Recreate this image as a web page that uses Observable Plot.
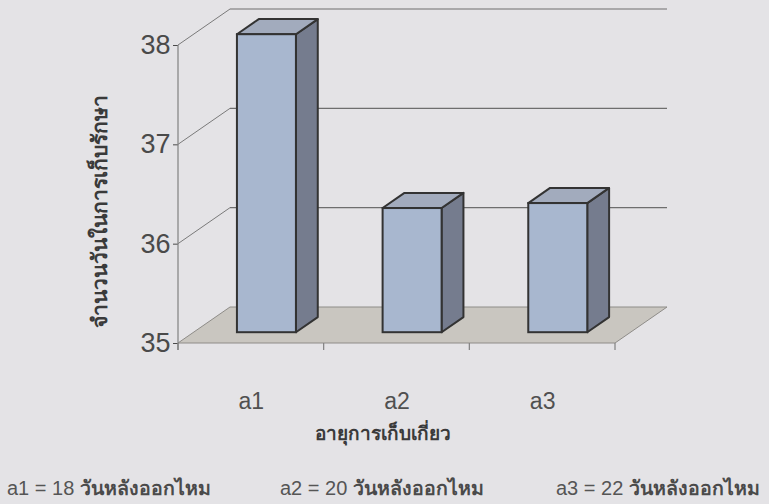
<!DOCTYPE html>
<html><head><meta charset="utf-8">
<script src="https://cdn.jsdelivr.net/npm/d3@7"></script>
<script src="https://cdn.jsdelivr.net/npm/@observablehq/plot@0.6"></script>
<style>
html,body{margin:0;padding:0;background:#e4e3e6;}
#wrap{position:relative;width:769px;height:504px;overflow:hidden;font-family:"Liberation Sans",Arial,sans-serif;}
#wrap svg{position:absolute;left:0;top:0;}
.cap{position:absolute;top:473px;font-size:20px;color:#555;white-space:nowrap}
.cap b{font-weight:bold;color:#4a4a4a;font-size:19.5px}
</style></head><body><div id="wrap"></div>
<script>
// ---- data ----
const categories = ["a1", "a2", "a3"];
const values = [38.0, 36.25, 36.3];
const yTicks = [35, 36, 37, 38];
const yBase = 35;
const xTitle = "อายุการเก็บเกี่ยว";
const yTitle = "จำนวนวันในการเก็บรักษา";
const captionCodes = ["a1 = 18", "a2 = 20", "a3 = 22"];
const captionText = "วันหลังออกไหม";

// ---- 3D look (pixels) ----
const DX = 52, DY = -36;          // full depth of the floor
const F0 = 0.3, F1 = 0.72;        // bar front/back depth fractions
const HALF = 0.2025;              // half bar width (band units)

const data = categories.map((c, i) => ({cat: c, i, value: values[i]}));

function scene(index, scales) {
  const {x, y} = scales;
  const g = d3.create("svg:g");
  const x0 = x(0), x3 = x(categories.length), yb = y(yBase);
  for (const t of yTicks) {
    if (t === yBase) continue;
    const py = y(t);
    g.append("line").attr("x1", x0).attr("y1", py).attr("x2", x0 + DX).attr("y2", py + DY)
      .attr("stroke", "#7a7a7a").attr("stroke-width", 1);
    g.append("line").attr("x1", x0 + DX).attr("y1", py + DY).attr("x2", x3 + DX).attr("y2", py + DY)
      .attr("stroke", "#6e6e6e").attr("stroke-width", 1.2);
  }
  g.append("path")
    .attr("d", `M${x0},${yb}L${x3},${yb}L${x3 + DX},${yb + DY}L${x0 + DX},${yb + DY}Z`)
    .attr("fill", "#c9c6c0").attr("stroke", "#8e8c88").attr("stroke-width", 1);
  g.append("line").attr("x1", x0).attr("x2", x0).attr("y1", y(d3.max(yTicks))).attr("y2", yb + 7)
    .attr("stroke", "#808080").attr("stroke-width", 1.2);
  for (let k = 0; k <= categories.length; k++) {
    g.append("line").attr("x1", x(k)).attr("x2", x(k)).attr("y1", yb).attr("y2", yb + 7)
      .attr("stroke", "#808080").attr("stroke-width", 1.2);
  }
  const fx0 = DX * F0, fy0 = DY * F0, fx1 = DX * F1, fy1 = DY * F1;
  for (const d of data) {
    const xl = x(d.i + 0.5 - HALF), xr = x(d.i + 0.5 + HALF), yv = y(d.value);
    g.append("path")
      .attr("d", `M${xr + fx0},${yv + fy0}L${xr + fx1},${yv + fy1}L${xr + fx1},${yb + fy1}L${xr + fx0},${yb + fy0}Z`)
      .attr("fill", "#757c8e").attr("stroke", "#333").attr("stroke-width", 2).attr("stroke-linejoin", "round");
    g.append("path")
      .attr("d", `M${xl + fx0},${yv + fy0}L${xr + fx0},${yv + fy0}L${xr + fx1},${yv + fy1}L${xl + fx1},${yv + fy1}Z`)
      .attr("fill", "#a2abbd").attr("stroke", "#333").attr("stroke-width", 2).attr("stroke-linejoin", "round");
    g.append("rect")
      .attr("x", xl + fx0).attr("y", yv + fy0).attr("width", xr - xl).attr("height", yb - yv)
      .attr("fill", "#a8b7cf").attr("stroke", "#333").attr("stroke-width", 2);
  }
  return g.node();
}

const chart = Plot.plot({
  width: 769,
  height: 460,
  marginLeft: 178,
  marginRight: 154,
  marginTop: 45,
  marginBottom: 117,
  style: {background: "transparent", color: "#4a4a4a", fontFamily: "'Liberation Sans', Arial, sans-serif", fontSize: "27px"},
  x: {domain: [0, categories.length], axis: null},
  y: {domain: [yBase, d3.max(yTicks)], ticks: yTicks, tickSize: 5, tickPadding: 3, tickFormat: d => String(d), label: null},
  marks: [
    scene,
    Plot.text(data, {x: d => d.i + 0.5, y: yBase, dy: 58, text: "cat", fontSize: 23, fill: "#505050"}),
    Plot.text([xTitle], {frameAnchor: "bottom", textAnchor: "middle", lineAnchor: "middle", dx: -14, dy: 90,
      fontSize: 19, fontWeight: "bold", fill: "#3a3a3a",
      fontFamily: "'Liberation Sans', 'Noto Sans', 'DejaVu Sans', sans-serif"}),
    Plot.text([yTitle], {frameAnchor: "left", textAnchor: "middle", lineAnchor: "middle", rotate: -90, dx: -78, dy: 17,
      fontSize: 21, fontWeight: "bold", fill: "#3a3a3a",
      fontFamily: "'Liberation Sans', 'Noto Sans', 'DejaVu Sans', sans-serif"})
  ]
});
const wrap = document.getElementById("wrap");
wrap.appendChild(chart);

const capLeft = [7, 280, 556];
captionCodes.forEach((c, i) => {
  const s = document.createElement("div");
  s.className = "cap";
  s.style.left = capLeft[i] + "px";
  s.innerHTML = c + " <b>" + captionText + "</b>";
  wrap.appendChild(s);
});
</script></body></html>
